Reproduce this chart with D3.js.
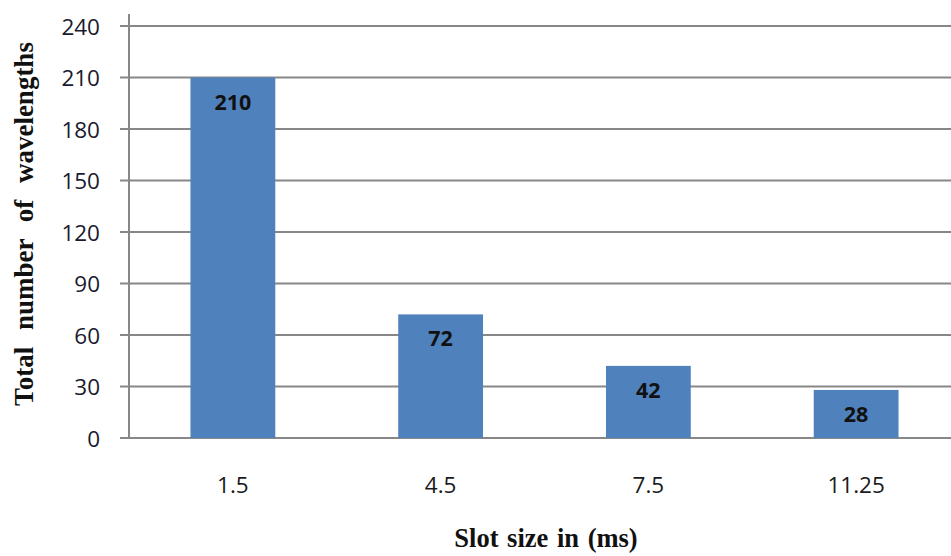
<!DOCTYPE html>
<html>
<head>
<meta charset="utf-8">
<script src="https://cdn.jsdelivr.net/npm/d3@7"></script>
<style>
  html, body { margin: 0; padding: 0; background: #fff; }
  svg { display: block; }
</style>
</head>
<body>
<svg id="chart" width="951" height="556"></svg>
<script>
// Slot sizes (ms) and the resulting wavelength counts
const categories = ["1.5", "4.5", "7.5", "11.25"];
const values = [210, 72, 42, 28];
const yTicks = [0, 30, 60, 90, 120, 150, 180, 210, 240];
const xTitle = "Slot size in (ms)";
const yTitle = "Total number of wavelengths";

const svg = d3.select("#chart");
const plotLeft = 129, plotRight = 960, plotTop = 26, plotBottom = 438;

const x = d3.scaleBand()
  .domain(categories)
  .range([plotLeft, plotRight])
  .paddingInner(145 / 245)
  .paddingOuter(145 / 245 / 2);

const y = d3.scaleLinear().domain([0, 240]).range([plotBottom, plotTop]);

// Horizontal gridlines (they also form the tick marks left of the axis)
svg.append("g")
  .selectAll("line")
  .data(yTicks)
  .join("line")
  .attr("x1", plotLeft - 9)
  .attr("x2", 951)
  .attr("y1", d => y(d))
  .attr("y2", d => y(d))
  .attr("stroke", "#878787")
  .attr("stroke-width", 2);

// Bars
svg.append("g")
  .selectAll("rect")
  .data(values)
  .join("rect")
  .attr("x", (d, i) => x(categories[i]))
  .attr("width", x.bandwidth())
  .attr("y", d => y(d))
  .attr("height", d => y(0) - y(d))
  .attr("fill", "#4F81BD");

// Value axis line
svg.append("line")
  .attr("x1", plotLeft).attr("x2", plotLeft)
  .attr("y1", 14).attr("y2", plotBottom + 1)
  .attr("stroke", "#878787")
  .attr("stroke-width", 2);

// Y tick labels
const yAxis = d3.axisLeft(y).tickValues(yTicks).tickSize(0).tickPadding(0);
const gy = svg.append("g").attr("transform", `translate(${plotLeft - 29},0)`).call(yAxis);
gy.select(".domain").remove();
gy.selectAll("text")
  .attr("font-family", "'Open Sans', sans-serif")
  .attr("font-size", 22.5)
  .attr("fill", "#1a1a2e")
  .attr("dy", "0.36em");

// X tick labels
const xAxis = d3.axisBottom(x).tickSize(0).tickPadding(0);
const gx = svg.append("g").attr("transform", `translate(0,${plotBottom + 55})`).call(xAxis);
gx.select(".domain").remove();
gx.selectAll("text")
  .attr("font-family", "'Open Sans', sans-serif")
  .attr("font-size", 22.5)
  .attr("fill", "#1a1a1a")
  .attr("dy", 0);

// Value labels inside the bar tops
svg.append("g")
  .selectAll("text")
  .data(values)
  .join("text")
  .attr("x", (d, i) => x(categories[i]) + x.bandwidth() / 2)
  .attr("y", d => y(d) + 32)
  .attr("text-anchor", "middle")
  .attr("font-family", "'Open Sans', sans-serif")
  .attr("font-weight", "bold")
  .attr("font-size", 21.5)
  .attr("fill", "#111")
  .text(d => d);

// Axis titles
svg.append("text")
  .attr("x", 546)
  .attr("y", 547)
  .attr("text-anchor", "middle")
  .attr("font-family", "'Liberation Serif', 'Times New Roman', serif")
  .attr("font-weight", "bold")
  .attr("font-size", 26.5)
  .attr("word-spacing", 2)
  .attr("fill", "#111")
  .text(xTitle);

svg.append("text")
  .attr("transform", "translate(33,224) rotate(-90)")
  .attr("text-anchor", "middle")
  .attr("font-family", "'Liberation Serif', 'Times New Roman', serif")
  .attr("font-weight", "bold")
  .attr("font-size", 27)
  .attr("word-spacing", 10)
  .attr("fill", "#111")
  .text(yTitle);
</script>
</body>
</html>
